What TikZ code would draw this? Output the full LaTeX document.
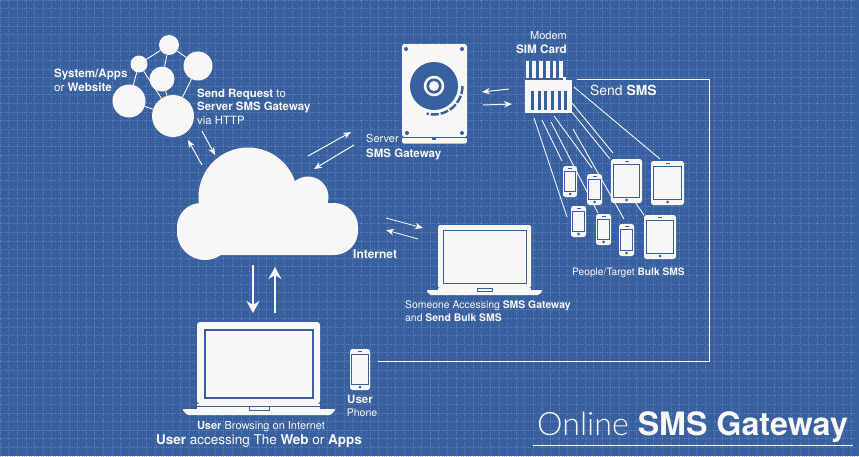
\documentclass[tikz,border=0pt]{standalone}
\usepackage{fontspec}
\setmainfont{TeX Gyre Heros}
\newfontfamily\lightfont{Lato}[UprightFont=* Light]
\usetikzlibrary{arrows.meta}
\definecolor{bp}{HTML}{385F9E}
\definecolor{wh}{HTML}{F8F7F5}
\definecolor{gridc}{HTML}{7C9ACA}
\newcommand{\bb}[1]{\textbf{#1}}
\tikzset{
 x=1pt,y=-1pt,
 wl/.style={draw=wh,line width=.9pt},
 hd/.style={-{Stealth[length=8pt,width=6.5pt]},wh,line width=1pt},
 hdb/.style={-{Stealth[length=12pt,width=13pt]},wh,line width=1.7pt},
 lbl/.style={text=wh,inner sep=0pt,font=\fontsize{#1}{#1}\selectfont},
 lbl/.default=10,
 netc/.style={circle,fill=wh,inner sep=0pt,minimum size=#1},
}
\newcommand{\phone}[4]{%
 \fill[wh,rounded corners=2.5pt] (#1,#2) rectangle (#3,#4);
 \draw[bp,line width=.6pt] ({#1+1.7},{#2+5}) rectangle ({#3-1.7},{#4-6});
 \fill[bp] ({(#1+#3)/2},{#4-3}) circle (1.5);
 \fill[bp] ({(#1+#3)/2-2},{#2+2}) rectangle ({(#1+#3)/2+2},{#2+2.7});
}
\newcommand{\tablet}[4]{%
 \fill[wh,rounded corners=2.5pt] (#1,#2) rectangle (#3,#4);
 \draw[bp,line width=.8pt] ({#1+2.7},{#2+5}) rectangle ({#3-2.7},{#4-6});
 \fill[bp] ({(#1+#3)/2},{#4-3}) circle (1.5);
 \fill[bp] ({(#1+#3)/2-2},{#2+2}) rectangle ({(#1+#3)/2+2},{#2+2.7});
}
\begin{document}
\begin{tikzpicture}
\useasboundingbox (0,0) rectangle (859,456);
\fill[bp] (0,0) rectangle (859,456);
% grid
\foreach \i in {0,...,100}{\draw[gridc,line width=.4pt,dotted,opacity=.6] ({\i*8.6},0) -- ({\i*8.6},456);}
\foreach \i in {0,...,53}{\draw[gridc,line width=.4pt,dotted,opacity=.6] (0,{\i*8.6}) -- (859,{\i*8.6});}

% network
\node[netc=20pt] (c1) at (169,45) {};
\node[netc=29pt] (c2) at (198,66) {};
\node[netc=17pt] (c3) at (139,64) {};
\node[netc=25pt] (c4) at (162,79) {};
\node[netc=33pt] (c5) at (129,101) {};
\node[netc=42pt] (c6) at (173,116) {};
\foreach \a/\b in {c3/c1,c1/c2,c1/c4,c3/c5,c3/c6,c4/c6,c2/c6,c5/c6}{\draw[wl] (\a) -- (\b);}
\coordinate (na1) at (202,165); \coordinate (na2) at (188,140);
\coordinate (na3) at (202,131); \coordinate (na4) at (215,155);
\draw[hd] (na1) -- (na2);
\draw[hd] (na3) -- (na4);

% cloud
\fill[wh] (248,197) circle (49.5);
\fill[wh] (308,197) circle (20.5);
\fill[wh] (205,232) circle (28);
\fill[wh,rounded corners=24pt] (177,203) rectangle (358,255);

% server
\fill[wh,rounded corners=2.5pt] (402,44) rectangle (467,137);
\fill[wh,rounded corners=2pt] (402,137.5) -- (467,137.5) -- (467,143.5) -- (402,143.5) -- cycle;
\draw[bp,line width=.8pt] (402,137.2) -- (467,137.2);
\fill[bp] (432,137) rectangle (436,139.5);
\foreach \p in {(406,49),(462,49),(407,133),(462,133)}{\fill[bp] \p circle (2);}
\fill[bp] (434,86) circle (24);
\fill[wh] (434,86) circle (10.3);
\fill[bp] (434,86) circle (7.6);
\fill[wh] (434,86) circle (5);
\draw[bp,line width=2.4pt,dash pattern=on 8pt off 2pt] (462.5,86) arc (0:105:28.5);

% arrows
\coordinate (a1) at (509,89); \coordinate (a2) at (482,92);
\coordinate (a3) at (483,105); \coordinate (a4) at (512,104);
\draw[hd] (a1) -- (a2);
\draw[hd] (a3) -- (a4);
\coordinate (b1) at (308,156); \coordinate (b2) at (351,132);
\coordinate (b3) at (354,145); \coordinate (b4) at (314,169);
\draw[hd] (b1) -- (b2);
\draw[hd] (b3) -- (b4);
\coordinate (d1) at (386,218); \coordinate (d2) at (423,228);
\coordinate (d3) at (418,239); \coordinate (d4) at (386,230);
\draw[hd,line width=.8pt] (d1) -- (d2);
\draw[hd,line width=.8pt] (d3) -- (d4);
\coordinate (e1) at (253,265); \coordinate (e2) at (253,313);
\coordinate (e3) at (275,313); \coordinate (e4) at (275,267);
\draw[hdb] (e1) -- (e2);
\draw[hdb] (e3) -- (e4);

% modem
\foreach \x in {527.3,534,541,548,554.5,561}{\fill[wh] (\x-1.8,61) rectangle (\x+1.8,78);}
\fill[wh] (563,77) rectangle (566,79.5);
\fill[wh] (525,80) rectangle (572,113);
\foreach \x in {532.7,539,545.7,552.3,559,565.7}{\fill[bp] (\x-1.5,91) rectangle (\x+1.5,109.5);}

% send SMS wire
\coordinate (w1) at (577,79); \coordinate (w2) at (709,79); \coordinate (w3) at (709,361); \coordinate (w4) at (378,361);
\draw[wl] (w1) -- (w2) -- (w3) -- (w4);

% modem lines
\coordinate (s1) at (574,87); \coordinate (t1) at (660,159);
\coordinate (s2) at (572,103); \coordinate (t2) at (613,153);
\coordinate (s3) at (571,111); \coordinate (t3) at (610,159);
\coordinate (s4) at (573,129); \coordinate (t4) at (624,219);
\coordinate (s5) at (554,116); \coordinate (t5) at (592,168);
\coordinate (s6) at (551,122); \coordinate (t6) at (598,213);
\coordinate (s7) at (542,120); \coordinate (t7) at (562,161);
\coordinate (s8) at (534,118); \coordinate (t8) at (567,217);
\coordinate (s9) at (635,202); \coordinate (t9) at (644,215);
\foreach \k in {1,...,8}{\draw[wl] (s\k) -- (t\k);}

% devices
\phone{563}{166}{577}{197}
\phone{587}{174}{602}{205}
\phone{571}{206}{586}{237}
\phone{596}{214}{611}{245}
\phone{619}{224}{634}{256}
\tablet{611}{159}{642}{203}
\tablet{651}{161}{684}{205}
\tablet{644}{215}{676}{259}
\phone{350}{349}{370}{390}
\draw[wl] (s9) -- (t9);

% laptop 2
\fill[wh,rounded corners=2pt] (438,225) rectangle (531,288);
\draw[bp,line width=.8pt] (443,230) rectangle (526,283);
\fill[wh,rounded corners=1.5pt] (426,290) -- (543,290) -- (539,295) -- (430,295) -- cycle;
\fill[wh] (438,288) rectangle (531,291);
\draw[bp,line width=.6pt,fill=wh] (477,288.5) rectangle (492,291);
% laptop 1
\fill[wh,rounded corners=3pt] (197,322) rectangle (320,404);
\draw[bp,line width=1.2pt] (205,330) rectangle (313,398);
\fill[wh,rounded corners=1.5pt] (182,409) -- (336,409) -- (331,415) -- (187,415) -- cycle;
\fill[wh] (197,404) rectangle (320,410);
\draw[bp,line width=.7pt,fill=wh] (249,406) rectangle (269,410);
\draw[bp,line width=1pt] (197,406) -- (249,406) (269,406) -- (320,406);

% labels
\node[lbl=11.6,anchor=base west] (t-sys) at (54,77) {\bb{System/Apps}};
\node[lbl=11.6,anchor=base west] (t-web) at (54,91) {or \bb{Website}};
\node[lbl=11.4,anchor=base west] (t-req) at (197,97) {\bb{Send Request} to};
\node[lbl=11.4,anchor=base west] (t-gw) at (197,110) {\bb{Server SMS Gateway}};
\node[lbl=11.4,anchor=base west] (t-http) at (197,124) {via HTTP};
\node[lbl=11,anchor=base west] (t-srv) at (366,142) {Server};
\node[lbl=11.5,anchor=base west] (t-srv2) at (366,157) {\bb{SMS Gateway}};
\node[lbl=11,anchor=base east] (t-mod) at (567,39) {Modem};
\node[lbl=11.7,anchor=base east] (t-sim) at (567,53) {\bb{SIM Card}};
\node[lbl=13.9,anchor=base west] (t-send) at (590,95) {Send \bb{SMS}};
\node[lbl=10.2,anchor=base west] (t-ppl) at (572,275) {People/Target \bb{Bulk SMS}};
\node[lbl=12,anchor=base west] (t-int) at (353,258) {\bb{Internet}};
\node[lbl=10.4,anchor=base west] (t-some) at (405,308) {Someone Accessing \bb{SMS Gateway}};
\node[lbl=10.4,anchor=base west] (t-and) at (405,321) {and \bb{Send Bulk SMS}};
\node[lbl=11.5,anchor=base] (t-usr) at (360,403) {\bb{User}};
\node[lbl=10.5,anchor=base] (t-ph) at (362,416) {Phone};
\node[lbl=11,anchor=base] (t-br) at (261,429) {\bb{User} Browsing on Internet};
\node[lbl=13.5,anchor=base] (t-acc) at (259,444) {\bb{User} accessing The \bb{Web} or \bb{Apps}};
\node[lbl=32.2,anchor=base west] (t-title) at (537,435) {{\lightfont Online} \bb{SMS Gateway}};
\coordinate (u1) at (533,445); \coordinate (u2) at (853,445);
\draw[wl] (u1) -- (u2);
\end{tikzpicture}
\end{document}
